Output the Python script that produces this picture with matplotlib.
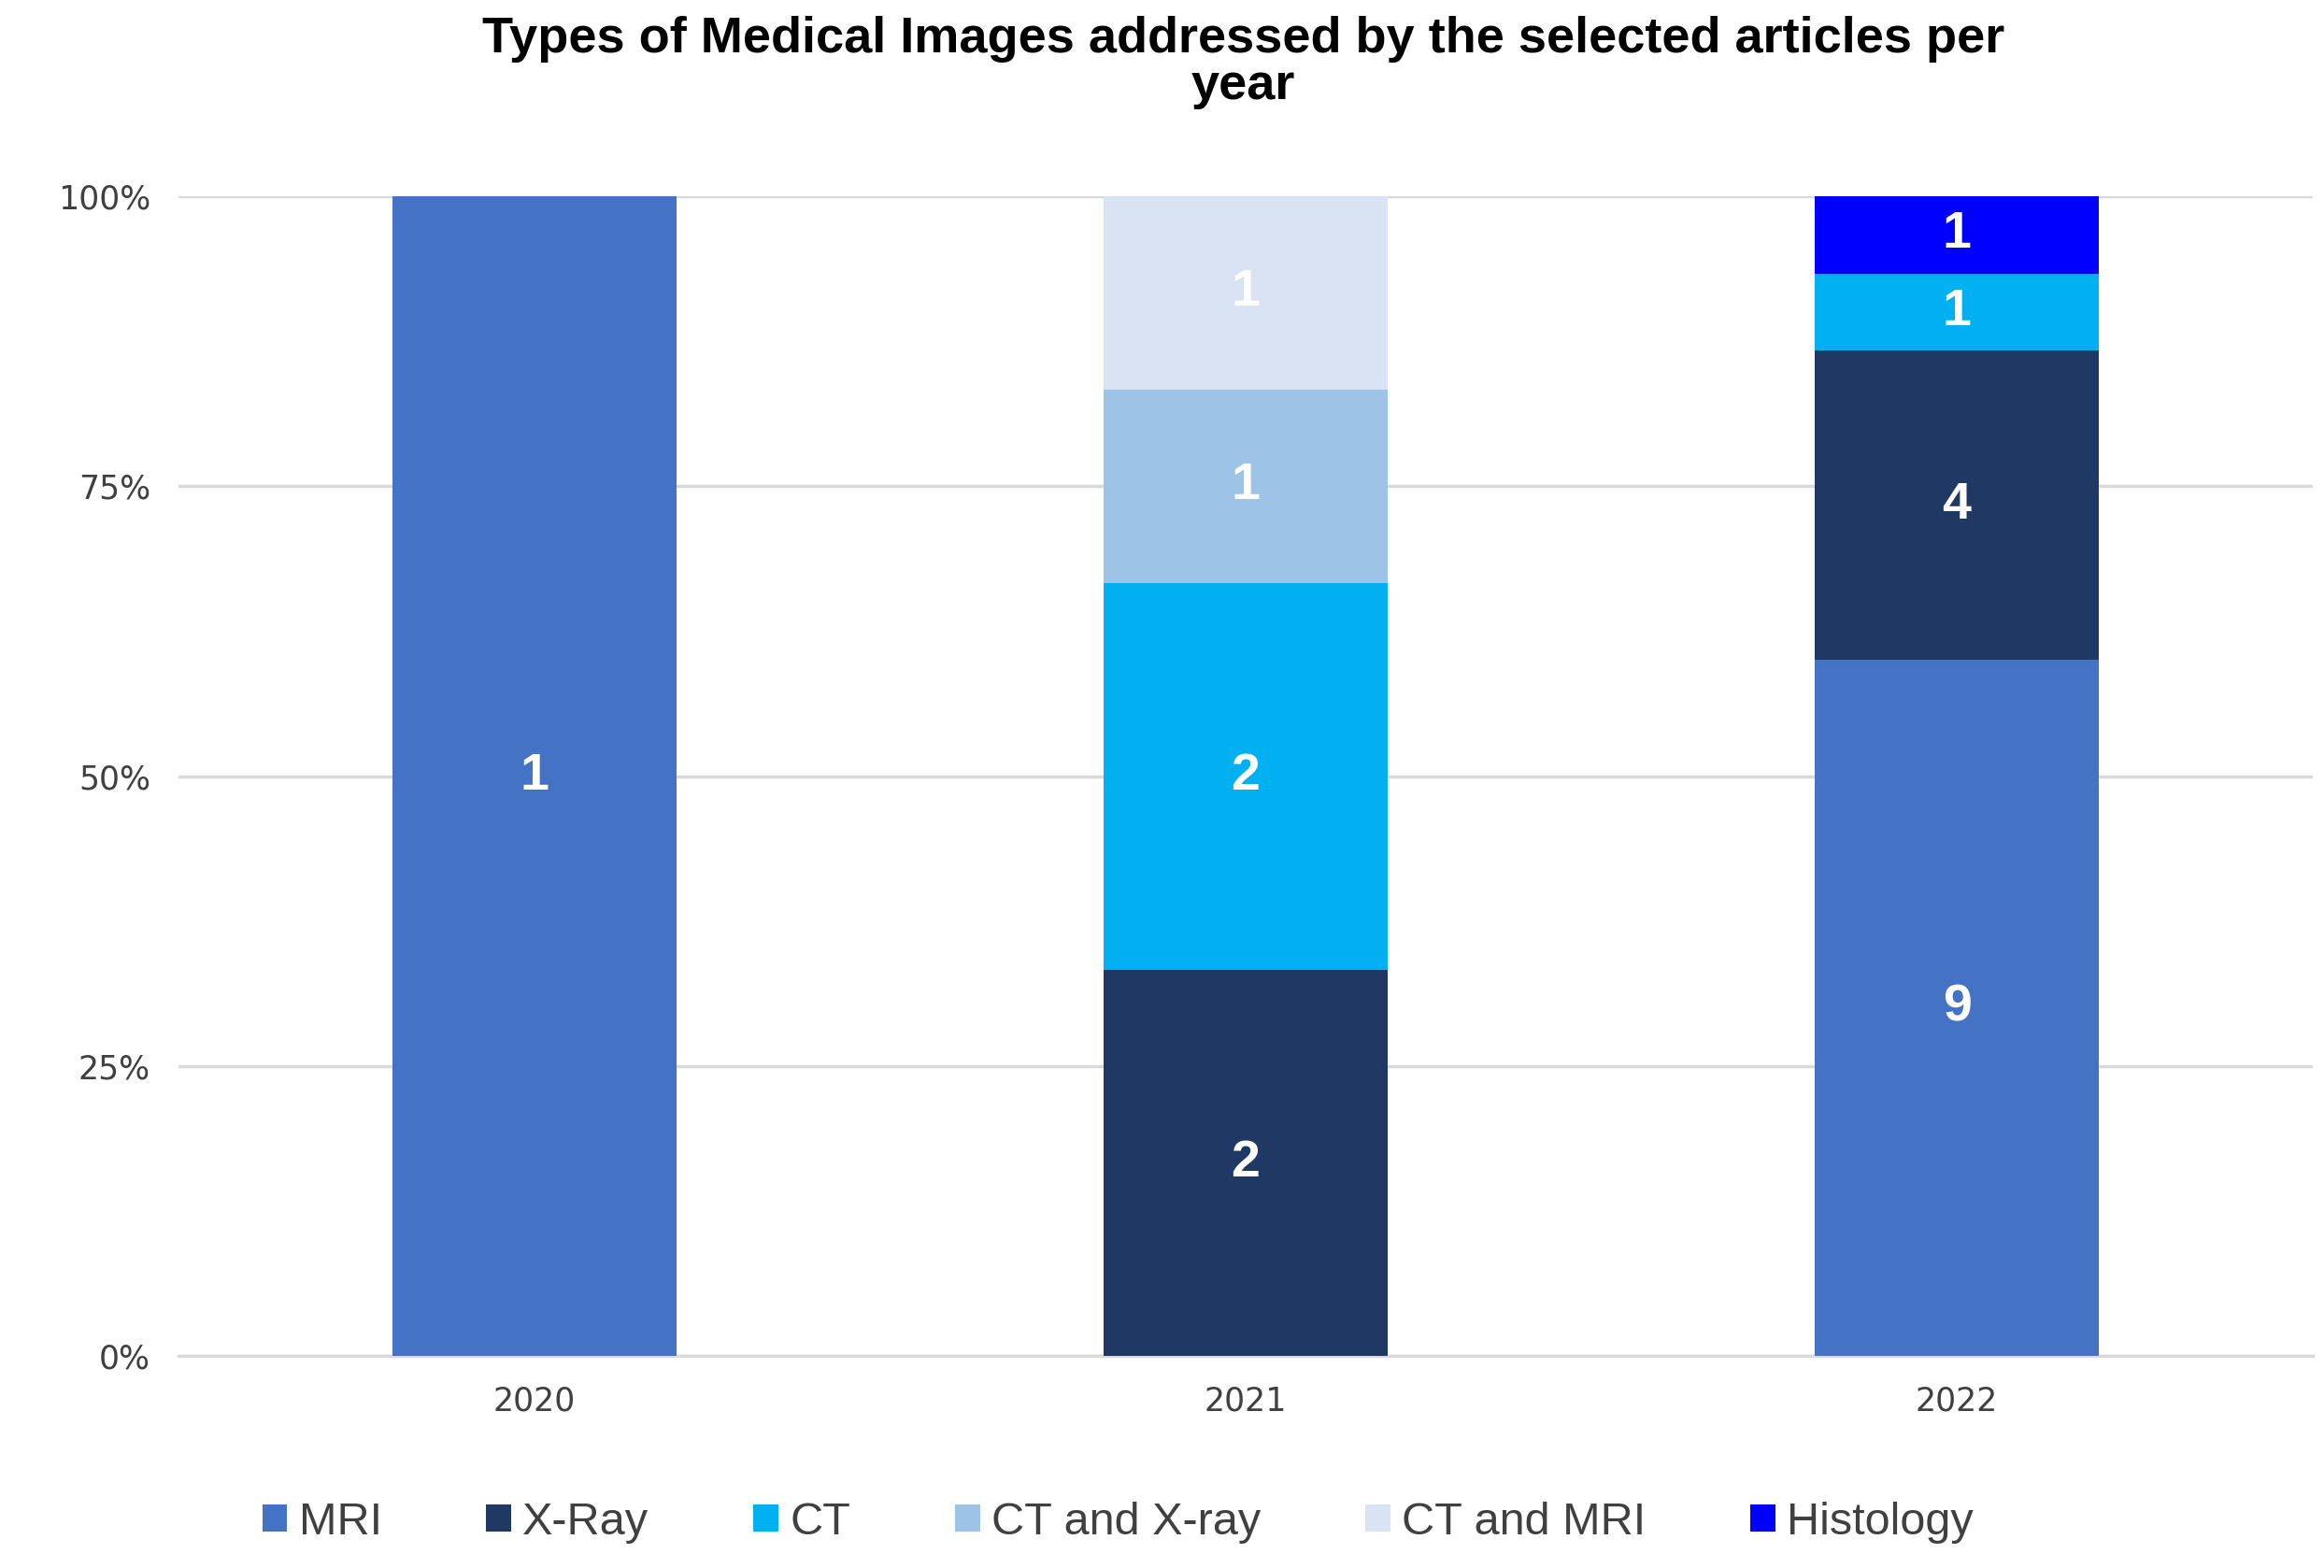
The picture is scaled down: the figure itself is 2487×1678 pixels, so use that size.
import matplotlib
matplotlib.use('Agg')
import matplotlib.pyplot as plt
import numpy as np

# data
years = ['2020', '2021', '2022']
types = ['MRI', 'X-Ray', 'CT', 'CT and X-ray', 'CT and MRI', 'Histology']
counts = {
    'MRI':          [1, 0, 9],
    'X-Ray':        [0, 2, 4],
    'CT':           [0, 2, 1],
    'CT and X-ray': [0, 1, 0],
    'CT and MRI':   [0, 1, 0],
    'Histology':    [0, 0, 1],
}
colors = ['#4472C4', '#203864', '#00B0F0', '#9DC3E6', '#DAE3F3', '#0000FF']

plt.rcParams['font.family'] = ['Liberation Sans', 'DejaVu Sans']

fig = plt.figure(figsize=(24.87, 16.78), dpi=100)
ax = fig.add_axes([0.077, 0.135, 0.918, 0.74])

x = np.arange(len(years))
totals = np.sum([counts[t] for t in types], axis=0)
bottom = np.zeros(len(years))
for t, c in zip(types, colors):
    vals = np.array(counts[t], dtype=float)
    pct = vals / totals * 100
    ax.bar(x, pct, 0.4, bottom=bottom, color=c, label=t, zorder=3)
    for i in range(len(years)):
        if vals[i] > 0:
            ax.text(x[i], bottom[i] + pct[i] / 2, '%d' % vals[i], ha='center', va='center',
                    color='white', fontsize=40, fontweight='bold', zorder=4)
    bottom += pct

ax.set_xlim(-0.5, 2.5)
ax.set_ylim(0, 100)
ax.set_yticks([0, 25, 50, 75, 100])
ax.set_yticklabels(['0%', '25%', '50%', '75%', '100%'], family='DejaVu Sans', color='#404040')
ax.set_xticks(x)
ax.set_xticklabels(years, family='DejaVu Sans', color='#404040')
ax.tick_params(axis='both', labelsize=25, length=0, pad=22)
ax.yaxis.grid(True, color='#D9D9D9', linewidth=2.5, zorder=0)
for s in ['top', 'right', 'left']:
    ax.spines[s].set_visible(False)
ax.spines['bottom'].set_color('#D9D9D9')
ax.spines['bottom'].set_linewidth(2.5)

fig.suptitle('Types of Medical Images addressed by the selected articles per\nyear',
             fontsize=39, fontweight='bold', y=0.99, x=0.535, linespacing=1.0)

ax.legend(loc='upper center', bbox_to_anchor=(0.44, -0.09), ncol=6, frameon=False,
          fontsize=35, handlelength=0.55, handleheight=0.55, handletextpad=0.25,
          columnspacing=2.3, labelcolor='#404040')

fig.savefig('out.png', dpi=100)
